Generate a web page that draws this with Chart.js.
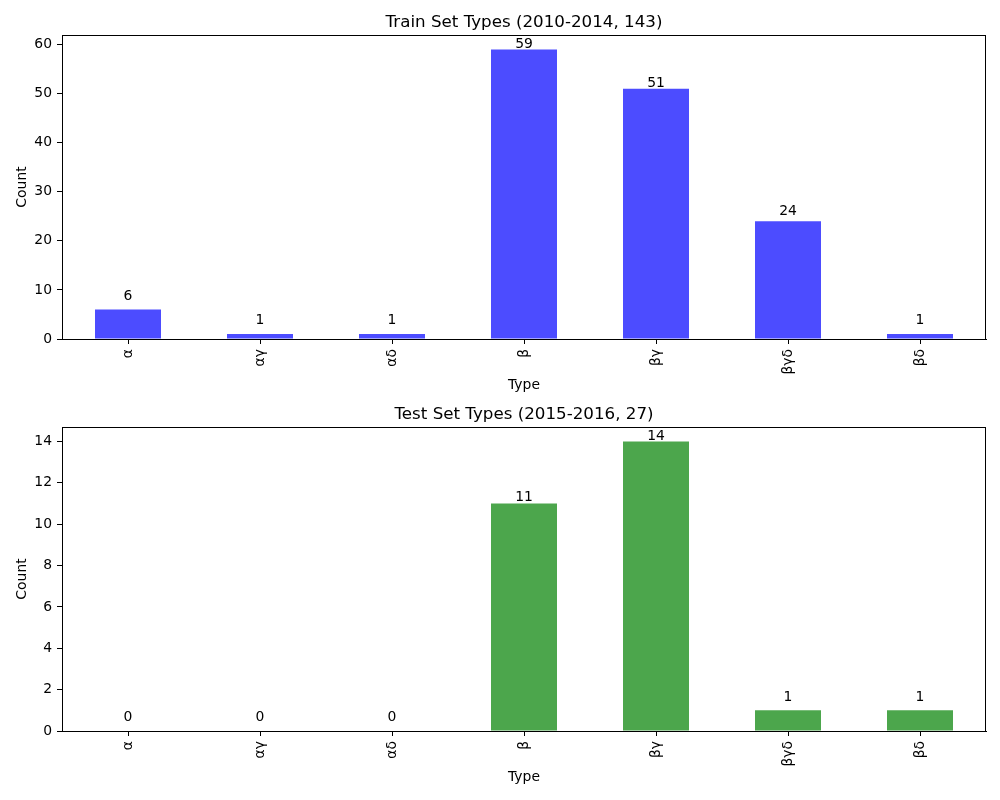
<!DOCTYPE html>
<html>
<head>
<meta charset="utf-8">
<script src="https://cdn.jsdelivr.net/npm/chart.js@4"></script>
<style>
  body { margin: 0; background: #fff; }
  canvas { position: absolute; left: 0; }
  #train-chart { top: 0; }
  #test-chart { top: 392px; }
</style>
</head>
<body>
<canvas id="train-chart" width="1000" height="400"></canvas>
<canvas id="test-chart" width="1000" height="400"></canvas>
<script>
// Datos
const types = ['α', 'αγ', 'αδ', 'β', 'βγ', 'βγδ', 'βδ'];
const trainCounts = [6, 1, 1, 59, 51, 24, 1];
const testCounts = [0, 0, 0, 11, 14, 1, 1];
const trainTitle = 'Train Set Types (2010-2014, 143)';
const testTitle = 'Test Set Types (2015-2016, 27)';

Chart.defaults.font.family = "'DejaVu Sans', sans-serif";
Chart.defaults.font.size = 13.9;
Chart.defaults.color = '#000';

// Titulo, marco y etiquetas de valor, al estilo matplotlib
const framePlugin = {
    id: 'frame',
    afterDraw(chart, args, opts) {
        const {ctx, chartArea: a} = chart;
        ctx.save();
        ctx.strokeStyle = '#000';
        ctx.lineWidth = 1;
        ctx.strokeRect(a.left + 0.5, a.top + 0.5, a.right - a.left - 1, a.bottom - a.top);

        ctx.font = "16.7px 'DejaVu Sans'";
        ctx.textAlign = 'center';
        ctx.textBaseline = 'alphabetic';
        ctx.fillStyle = '#000';
        ctx.fillText(opts.title, (a.left + a.right) / 2, a.top - 8.3);

        const values = chart.data.datasets[0].data;
        const maxVal = Math.max(...values);
        const meta = chart.getDatasetMeta(0);
        ctx.font = "13.9px 'DejaVu Sans'";
        meta.data.forEach((bar, i) => {
            const v = values[i];
            const gap = 1 + 9 * (1 - v / maxVal);
            ctx.fillText(String(v), bar.x, bar.y - gap);
        });
        ctx.restore();
    }
};

function renderChart(canvasId, counts, color, yMax, step, title) {
    const config = {
        type: 'bar',
        data: {
            labels: types,
            datasets: [{
                data: counts,
                backgroundColor: color,
                borderWidth: 0,
                inflateAmount: 0,
                categoryPercentage: 1.0,
                barPercentage: 0.5
            }]
        },
        options: {
            responsive: false,
            animation: false,
            layout: {padding: {top: 35, right: 14, left: 0, bottom: 0}},
            plugins: {
                legend: {display: false},
                title: {display: false},
                tooltip: {enabled: false},
                frame: {title: title}
            },
            scales: {
                x: {
                    grid: {offset: false, drawOnChartArea: false, drawTicks: true, tickLength: 5, color: '#000'},
                    border: {display: true, color: '#000'},
                    ticks: {autoSkip: false, minRotation: 90, maxRotation: 90, padding: 5},
                    title: {display: true, text: 'Type', padding: {top: 0, bottom: 6.7}, font: {lineHeight: 1.2}},
                    afterFit(scale) { scale.height = 61; }
                },
                y: {
                    min: 0,
                    max: yMax,
                    grid: {drawOnChartArea: false, drawTicks: true, tickLength: 5, color: '#000'},
                    border: {display: true, color: '#000'},
                    ticks: {stepSize: step, includeBounds: false, padding: 5},
                    title: {display: true, text: 'Count', padding: {top: 13.7, bottom: 0}, font: {lineHeight: 1.2}},
                    afterFit(scale) { scale.width = 62; }
                }
            }
        },
        plugins: [framePlugin]
    };
    const ctx = document.getElementById(canvasId).getContext('2d');
    return new Chart(ctx, config);
}

renderChart('train-chart', trainCounts, 'rgba(0, 0, 255, 0.7)', 61.95, 10, trainTitle);
renderChart('test-chart', testCounts, 'rgba(0, 128, 0, 0.7)', 14.7, 2, testTitle);
</script>
</body>
</html>
